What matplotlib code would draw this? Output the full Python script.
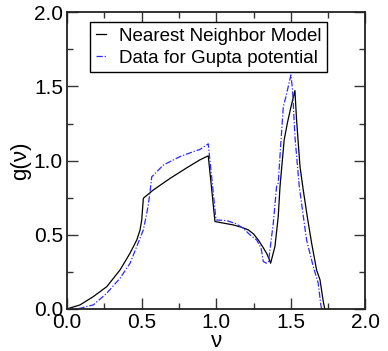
import matplotlib

matplotlib.use("Agg")
import matplotlib.pyplot as plt
from matplotlib.ticker import MultipleLocator

plt.rcParams["font.family"] = ["Liberation Sans", "DejaVu Sans"]

# Nearest neighbour model, g(nu)
nn_nu = [0.0, 0.087, 0.176, 0.266, 0.355, 0.422, 0.467, 0.489, 0.50, 0.511,
         0.578, 0.69, 0.80, 0.89, 0.946, 0.991, 1.05, 1.114, 1.17, 1.214, 1.25,
         1.281, 1.31, 1.337, 1.352, 1.364, 1.393, 1.415, 1.427, 1.445, 1.455,
         1.476, 1.50, 1.527, 1.538, 1.561, 1.583, 1.61, 1.639, 1.672, 1.695,
         1.717, 1.727]
nn_g = [0.0, 0.027, 0.083, 0.15, 0.263, 0.376, 0.465, 0.533, 0.60, 0.746,
        0.802, 0.88, 0.95, 1.005, 1.032, 0.589, 0.578, 0.566, 0.55, 0.533, 0.505,
        0.465, 0.42, 0.375, 0.34, 0.308, 0.42, 0.622, 0.825, 1.027, 1.14,
        1.252, 1.36, 1.472, 1.274, 0.96, 0.80, 0.62, 0.443, 0.263, 0.196,
        0.05, 0.0]

# Data for Gupta potential
gp_nu = [0.0, 0.087, 0.176, 0.266, 0.355, 0.422, 0.489, 0.511, 0.534, 0.545,
         0.556, 0.567, 0.645, 0.757, 0.846, 0.89, 0.946, 0.998, 1.07, 1.13,
         1.18, 1.226, 1.27, 1.3, 1.315, 1.337, 1.35, 1.382, 1.404, 1.415, 1.431,
         1.449, 1.467, 1.50, 1.511, 1.527, 1.556, 1.605, 1.65, 1.683, 1.70, 1.706]
gp_g = [0.0, 0.004, 0.027, 0.106, 0.207, 0.308, 0.477, 0.533, 0.645, 0.71,
        0.79, 0.89, 0.97, 1.027, 1.06, 1.075, 1.113, 0.60, 0.595, 0.575,
        0.544, 0.499, 0.465, 0.41, 0.319, 0.308, 0.32, 0.578, 0.825, 0.848, 1.095,
        1.364, 1.432, 1.578, 1.477, 1.162, 0.825, 0.465, 0.285, 0.173, 0.03, 0.0]

fig = plt.figure(figsize=(3.88, 3.51), dpi=100)
ax = fig.add_axes([0.173, 0.12, 0.769, 0.845])

ax.plot(nn_nu, nn_g, color="black", lw=0.9, label="Nearest Neighbor Model")
ax.plot(gp_nu, gp_g, color="#2a2aff", lw=0.9, dashes=(5, 1.5, 1, 1.5),
        label="Data for Gupta potential")

ax.set_xlim(0, 2)
ax.set_ylim(0, 2)
for axis in (ax.xaxis, ax.yaxis):
    axis.set_major_locator(MultipleLocator(0.5))
    axis.set_minor_locator(MultipleLocator(0.25))
ax.tick_params(which="both", direction="in", top=True, right=True,
               labelsize=15, color="#333333", width=1.0)
ax.tick_params(which="major", length=8, pad=3)
ax.tick_params(which="minor", length=4)
for sp in ax.spines.values():
    sp.set_linewidth(1.3)
    sp.set_color("#222222")

ax.set_xlabel("ν", fontsize=16, labelpad=-1)
ax.set_ylabel("g(ν)", fontsize=16, labelpad=2)

leg = ax.legend(loc="upper left", bbox_to_anchor=(0.077, 0.967), borderaxespad=0,
                fontsize=13.5, handlelength=0.55, handletextpad=0.7,
                labelspacing=0.25, borderpad=0.3, fancybox=False,
                framealpha=1, edgecolor="black")
leg.get_frame().set_linewidth(1.0)

fig.savefig("out.png", dpi=100)
